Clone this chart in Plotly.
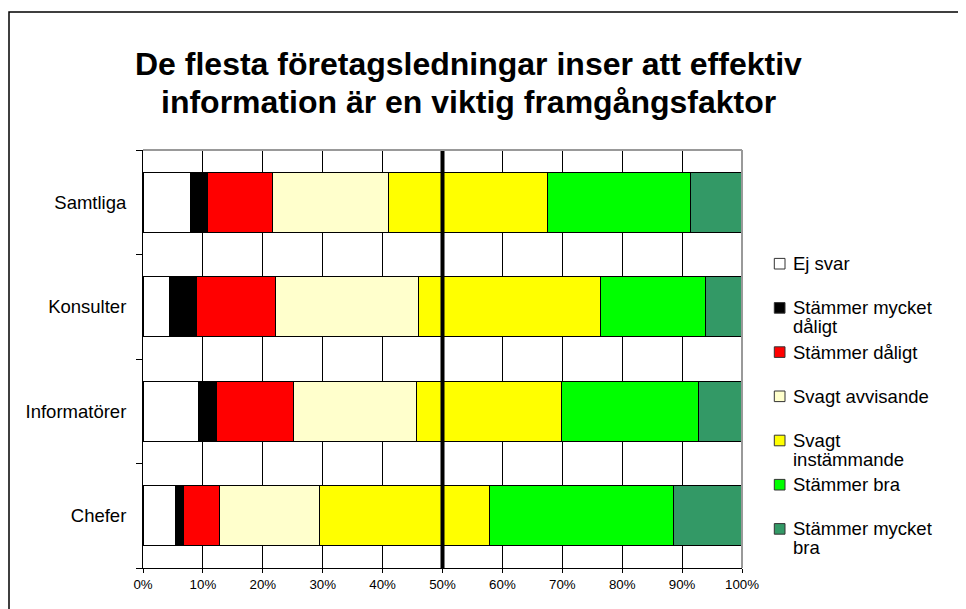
import plotly.graph_objects as go

# kategorier (uppifrån och ned)
grupper = ["Samtliga", "Konsulter", "Informatörer", "Chefer"]

svar = ["Ej svar", "Stämmer mycket dåligt", "Stämmer dåligt", "Svagt avvisande",
        "Svagt instämmande", "Stämmer bra", "Stämmer mycket bra"]
legend_rader = [["Ej svar"], ["Stämmer mycket", "dåligt"], ["Stämmer dåligt"],
                ["Svagt avvisande"], ["Svagt", "instämmande"], ["Stämmer bra"],
                ["Stämmer mycket", "bra"]]
farger = ["#FFFFFF", "#000000", "#FF0000", "#FFFFCC", "#FFFF00", "#00FF00", "#339966"]

# andel (%) per svar, i ordningen Samtliga, Konsulter, Informatörer, Chefer
ej_svar = [7.9, 4.5, 9.2, 5.4]
mycket_daligt = [2.8, 4.4, 3.0, 1.3]
daligt = [10.9, 13.3, 13.0, 6.0]
svagt_avvisande = [19.4, 23.8, 20.4, 16.7]
svagt_instammande = [26.5, 30.3, 24.3, 28.4]
bra = [23.9, 17.6, 22.8, 30.8]
mycket_bra = [8.6, 6.1, 7.3, 11.4]

serier = [ej_svar, mycket_daligt, daligt, svagt_avvisande, svagt_instammande, bra, mycket_bra]

mittlinje = 50
x_ticks = list(range(0, 101, 10))
font = "Arial, Liberation Sans, sans-serif"

# diagramytans storlek i pixlar (för att placera legend/rubrik)
W, H = 966, 609
L, R, T, B = 135, 232, 142, 49
pw, ph = W - L - R, H - T - B


def px_x(x):
    return (x - L) / pw


def px_y(y):
    return (H - B - y) / ph


fig = go.Figure()
for i in range(len(svar)):
    fig.add_trace(go.Bar(
        y=grupper, x=serier[i], orientation="h", name=svar[i], showlegend=False,
        marker=dict(color=farger[i], line=dict(color="#000000", width=1)),
        hovertemplate=svar[i] + ": %{x}%<extra>%{y}</extra>",
    ))

# tjock linje vid 50 %
fig.add_shape(type="line", xref="x", yref="paper", x0=mittlinje, x1=mittlinje, y0=0, y1=1,
              line=dict(color="#000000", width=4))
# grå överkant/högerkant
fig.add_shape(type="line", xref="paper", yref="paper", x0=0, x1=1, y0=1, y1=1,
              line=dict(color="#999999", width=2))
fig.add_shape(type="line", xref="paper", yref="paper", x0=1, x1=1, y0=0, y1=1,
              line=dict(color="#999999", width=2))
# yttre ram
fig.add_shape(type="rect", xref="paper", yref="paper", x0=px_x(1), x1=px_x(W + 10),
              y0=px_y(H + 10), y1=px_y(4),
              line=dict(color="#000000", width=1.5), layer="below")

# rubrik, två rader
for j, rad in enumerate(["De flesta företagsledningar inser att effektiv",
                         "information är en viktig framgångsfaktor"]):
    fig.add_annotation(text="<b>" + rad + "</b>", xref="paper", yref="paper",
                       x=px_x(460), y=px_y(56 + 38 * j), xanchor="center", yanchor="middle",
                       showarrow=False, font=dict(size=32, family=font, color="#000000"))

# legend
leg_y0, leg_steg, rad_steg = 255.7, 44.2, 19
for i, rader in enumerate(legend_rader):
    yc = leg_y0 + leg_steg * i
    fig.add_shape(type="rect", xref="paper", yref="paper",
                  x0=px_x(766.3), x1=px_x(777), y0=px_y(yc + 5.3), y1=px_y(yc - 5.3),
                  fillcolor=farger[i], line=dict(color="#333333", width=1))
    for k, txt in enumerate(rader):
        fig.add_annotation(text=txt, xref="paper", yref="paper",
                           x=px_x(782.7), y=px_y(yc + rad_steg * k), xanchor="left", yanchor="middle",
                           showarrow=False, font=dict(size=18.5, family=font, color="#000000"))

fig.update_layout(
    width=W, height=H,
    margin=dict(l=L, r=R, t=T, b=B),
    paper_bgcolor="white", plot_bgcolor="white",
    barmode="stack", bargap=0.43,
    font=dict(family=font, color="#000000"),
    showlegend=False,
    xaxis=dict(range=[0, 100], tickvals=x_ticks, ticktext=[f"{v}%" for v in x_ticks],
               showgrid=True, gridcolor="#000000", gridwidth=1,
               showline=True, linecolor="#000000", linewidth=1,
               ticks="outside", ticklen=4, tickcolor="#000000",
               tickfont=dict(size=13.3, family=font), zeroline=False, fixedrange=True),
    yaxis=dict(categoryorder="array", categoryarray=grupper[::-1],
               showgrid=False, showline=True, linecolor="#000000", linewidth=1,
               ticks="outside", ticklen=6, tickcolor="#000000", tickson="boundaries",
               ticklabelstandoff=12, tickfont=dict(size=18.5, family=font), fixedrange=True),
)

fig.write_html("out.html")
